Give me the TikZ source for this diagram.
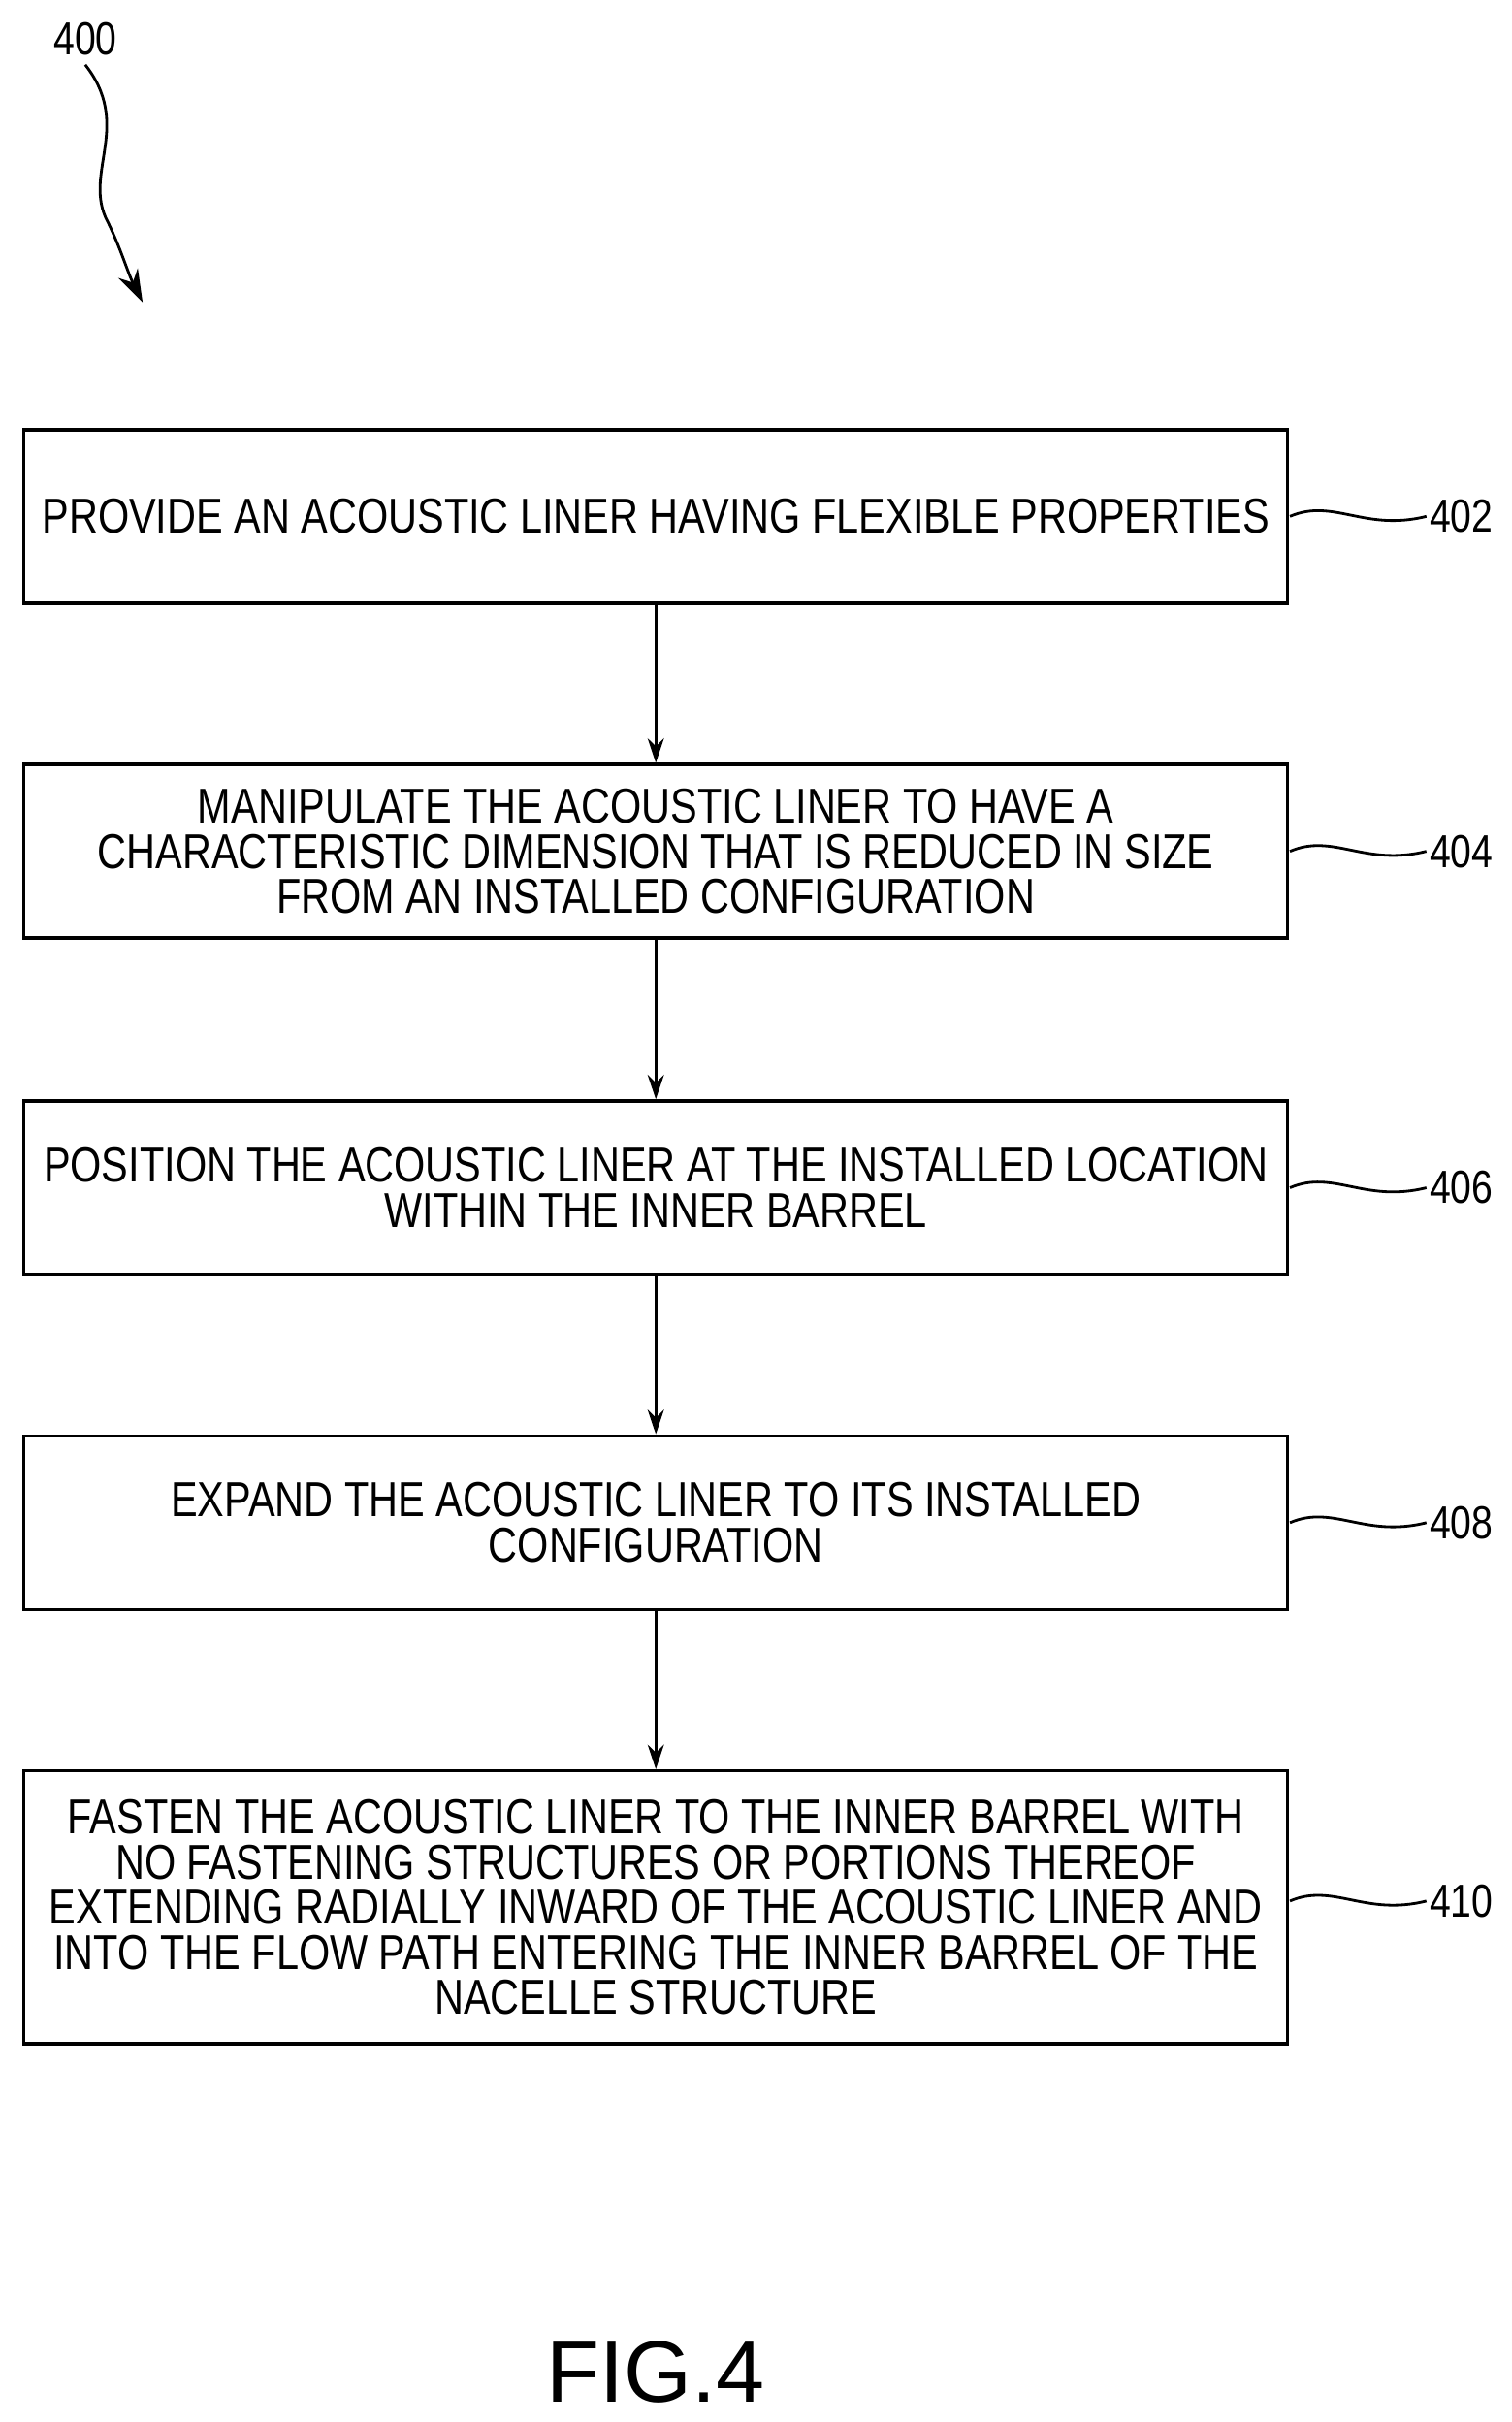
\documentclass[tikz,border=0pt]{standalone}
\usepackage{fontspec}
\setmainfont{Liberation Sans}[FakeStretch=0.82]
\newfontfamily\figfont{Liberation Sans}
\usetikzlibrary{arrows.meta}
\begin{document}
\begin{tikzpicture}[x=0.02cm,y=-0.02cm,
 box/.style={draw,line width=1.2pt,minimum width=815*0.02cm,align=center,inner sep=0pt,
   font=\fontsize{18}{16.6}\selectfont},
 lbl/.style={font=\fontsize{17}{17}\selectfont,anchor=west,inner sep=1pt},
 arr/.style={line width=1pt,-{Stealth[length=9pt,width=6pt]}},
 sq/.style={line width=1pt}]
\useasboundingbox (0,0) rectangle (975,1562);
\node[box,minimum height=112*0.02cm] (b1) at (423,333) {PROVIDE AN ACOUSTIC LINER HAVING FLEXIBLE PROPERTIES};
\node[box,minimum height=112*0.02cm] (b2) at (423,549) {MANIPULATE THE ACOUSTIC LINER TO HAVE A\\CHARACTERISTIC DIMENSION THAT IS REDUCED IN SIZE\\FROM AN INSTALLED CONFIGURATION};
\node[box,minimum height=112*0.02cm] (b3) at (423,766) {POSITION THE ACOUSTIC LINER AT THE INSTALLED LOCATION\\WITHIN THE INNER BARREL};
\node[box,minimum height=112*0.02cm] (b4) at (423,982) {EXPAND THE ACOUSTIC LINER TO ITS INSTALLED\\CONFIGURATION};
\node[box,minimum height=176*0.02cm] (b5) at (423,1230) {FASTEN THE ACOUSTIC LINER TO THE INNER BARREL WITH\\NO FASTENING STRUCTURES OR PORTIONS THEREOF\\EXTENDING RADIALLY INWARD OF THE ACOUSTIC LINER AND\\INTO THE FLOW PATH ENTERING THE INNER BARREL OF THE\\NACELLE STRUCTURE};
\draw[arr] (b1) -- (b2);
\draw[arr] (b2) -- (b3);
\draw[arr] (b3) -- (b4);
\draw[arr] (b4) -- (b5);
\foreach \b/\t/\y in {b1/402/333,b2/404/549,b3/406/766,b4/408/982,b5/410/1226}{
 \node[lbl] (l\t) at (920,\y) {\t};
 \draw[sq] (832,\y) .. controls (860,\y-12) and (880,\y+10) .. (l\t.west);
}
\node[font=\fontsize{17}{17}\selectfont] (n400) at (55,25) {400};
\coordinate (a400) at (92,195);
\draw[sq,-{Stealth[length=12pt,width=8pt]}] (n400.south) .. controls (85,80) and (55,110) .. (68,140) .. controls (78,160) and (82,175) .. (a400);
\node[font=\figfont\fontsize{32}{32}\selectfont] (fig) at (423,1530) {FIG.4};
\end{tikzpicture}
\end{document}
